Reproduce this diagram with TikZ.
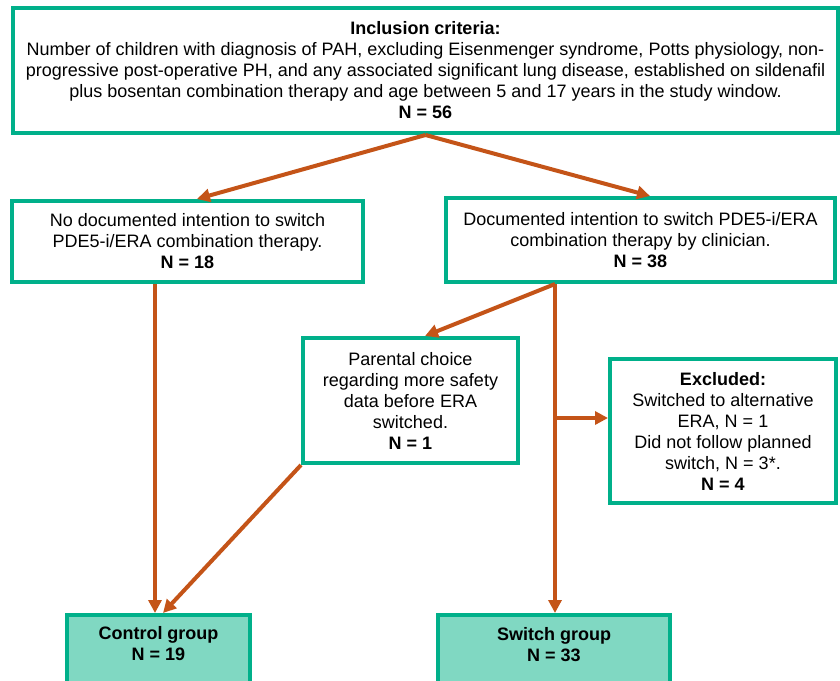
\documentclass[tikz,border=0pt]{standalone}
\usepackage{fontspec}
\setmainfont{Liberation Sans}
\usetikzlibrary{arrows.meta}
\definecolor{boxgreen}{RGB}{0,176,138}
\definecolor{groupfill}{RGB}{128,216,194}
\definecolor{arrowbrown}{RGB}{196,84,24}
\begin{document}
\begin{tikzpicture}[x=1pt,y=-1pt,
  box/.style={draw=boxgreen, line width=4pt, fill=white, inner sep=0pt, align=center,
    font=\fontsize{18}{21}\selectfont},
  grp/.style={draw=boxgreen, line width=4pt, fill=groupfill, inner sep=0pt},
  grptext/.style={align=center, inner sep=0pt, font=\fontsize{18}{21}\selectfont\bfseries},
  arr/.style={draw=arrowbrown, line width=4pt, -{Triangle[length=13pt,width=13pt]}}]
\useasboundingbox (0,0) rectangle (840,680);
\clip (0,0) rectangle (840,680);

\node[box, minimum width=825pt, minimum height=125pt] (top) at (425.5,70.5)
  {\textbf{Inclusion criteria:}\\
   Number of children with diagnosis of PAH, excluding Eisenmenger syndrome, Potts physiology, non-\\
   progressive post-operative PH, and any associated significant lung disease, established on sildenafil\\
   plus bosentan combination therapy and age between 5 and 17 years in the study window.\\
   \textbf{N = 56}};

\node[box, minimum width=351pt, minimum height=81pt] (lbox) at (187.5,241.5)
  {No documented intention to switch\\
   PDE5-i/ERA combination therapy.\\
   \textbf{N = 18}};

\node[box, minimum width=389pt, minimum height=84pt] (rbox) at (640.5,240)
  {Documented intention to switch PDE5-i/ERA\\
   combination therapy by clinician.\\
   \textbf{N = 38}};

\node[box, minimum width=215pt, minimum height=125pt] (pbox) at (410.5,400.5)
  {Parental choice\\
   regarding more safety\\
   data before ERA\\
   switched.\\
   \textbf{N = 1}};

\node[box, minimum width=226pt, minimum height=144pt] (ebox) at (723,431)
  {\textbf{Excluded:}\\
   Switched to alternative\\
   ERA, N = 1\\
   Did not follow planned\\
   switch, N = 3*.\\
   \textbf{N = 4}};

\node[grp, minimum width=183pt, minimum height=80pt, anchor=north] (cbox) at (158.5,613) {};
\node[grptext] (ctext) at ([yshift=-31pt]cbox.north) {Control group\\ N = 19};

\node[grp, minimum width=232pt, minimum height=80pt, anchor=north] (sbox) at (554,613) {};
\node[grptext] (stext) at ([yshift=-32pt]sbox.north) {Switch group\\ N = 33};

\coordinate (split) at ([xshift=-85.5pt]rbox.south);

\draw[arr] (top.south) -- ([xshift=9.5pt]lbox.north);
\draw[arr] (top.south) -- ([xshift=9.5pt]rbox.north);
\draw[arr] ([xshift=-32.5pt]lbox.south) -- ([xshift=-3.5pt]cbox.north);
\draw[arr] (split) -- ([xshift=14.5pt]pbox.north);
\draw[arr] (split) -- (split |- sbox.north);
\draw[arr] (split |- ebox.west) ++(0,-13) coordinate (ebranch) -- ([yshift=13pt]ebox.west);
\draw[arr] (pbox.south west) -- ([xshift=4.5pt]cbox.north);
\end{tikzpicture}
\end{document}
